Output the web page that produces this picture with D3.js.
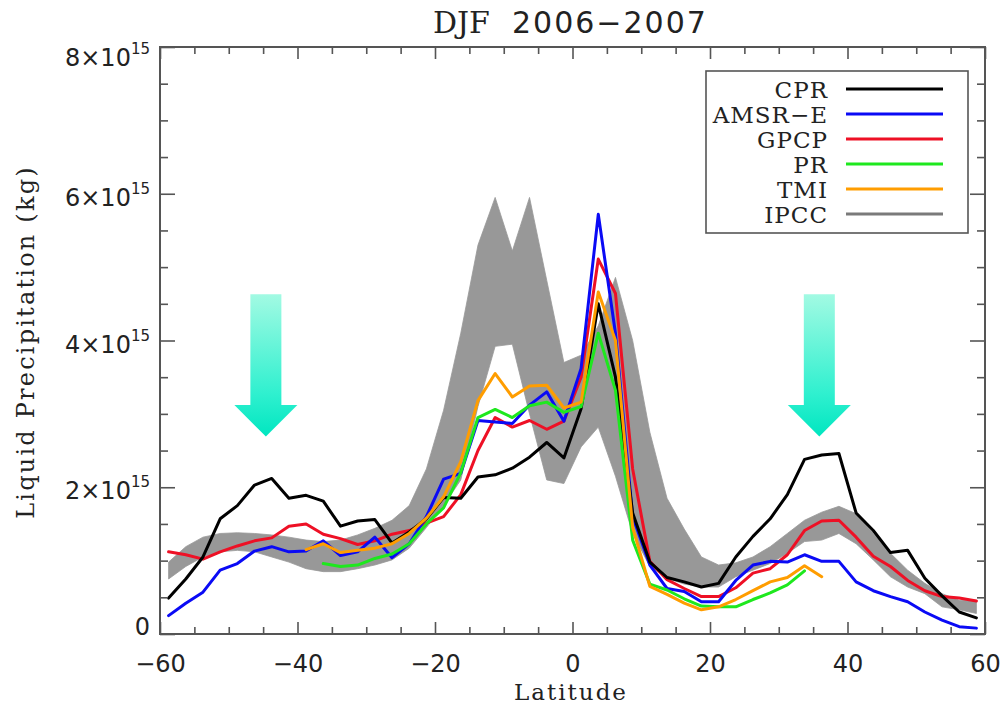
<!DOCTYPE html>
<html><head><meta charset="utf-8">
<script src="https://cdn.jsdelivr.net/npm/d3@7"></script>
<style>body{margin:0;background:#fff;overflow:hidden} svg{display:block}</style>
</head><body><svg id="c" width="1001" height="704"></svg>
<script>
// ---------------- data (units of 1e15 kg) ----------------
const latitudes = [-58.75,-56.25,-53.75,-51.25,-48.75,-46.25,-43.75,-41.25,-38.75,-36.25,-33.75,-31.25,
  -28.75,-26.25,-23.75,-21.25,-18.75,-16.25,-13.75,-11.25,-8.75,-6.25,-3.75,-1.25,
  1.25,3.75,6.25,8.75,11.25,13.75,16.25,18.75,21.25,23.75,26.25,28.75,
  31.25,33.75,36.25,38.75,41.25,43.75,46.25,48.75,51.25,53.75,56.25,58.75];
const cpr = [0.49,0.75,1.05,1.57,1.75,2.03,2.12,1.85,1.89,1.81,1.47,1.54,
  1.56,1.24,1.39,1.57,1.86,1.85,2.14,2.17,2.26,2.41,2.61,2.40,
  3.07,4.50,3.50,1.65,0.98,0.77,0.71,0.64,0.69,1.05,1.33,1.57,
  1.90,2.38,2.44,2.46,1.65,1.41,1.11,1.14,0.76,0.52,0.30,0.22];
const amsre = [0.25,0.42,0.57,0.87,0.96,1.13,1.19,1.12,1.13,1.27,1.07,1.12,
  1.32,1.04,1.23,1.60,2.11,2.19,2.91,2.89,2.87,3.12,3.30,2.90,
  3.62,5.72,4.10,1.60,0.94,0.62,0.58,0.44,0.44,0.73,0.94,0.99,
  0.98,1.08,0.99,0.99,0.71,0.59,0.51,0.44,0.30,0.19,0.10,0.08];
const gpcp = [1.12,1.08,1.02,1.12,1.20,1.27,1.31,1.47,1.50,1.36,1.30,1.22,
  1.27,1.36,1.41,1.51,1.60,1.90,2.50,2.95,2.82,2.91,2.79,2.90,
  3.50,5.11,4.64,2.25,0.99,0.74,0.62,0.51,0.51,0.63,0.83,0.89,
  1.08,1.41,1.54,1.55,1.32,1.06,0.92,0.73,0.59,0.51,0.49,0.45];
const pr = [null,null,null,null,null,null,null,null,null,0.96,0.92,0.94,
  1.03,1.09,1.23,1.50,1.72,2.20,2.95,3.06,2.95,3.11,3.16,3.02,
  3.10,4.10,3.32,1.28,0.68,0.60,0.48,0.38,0.37,0.37,0.47,0.56,
  0.67,0.86,null,null,null,null,null,null,null,null,null,null];
const tmi = [null,null,null,null,null,null,null,null,1.15,1.23,1.11,1.14,
  1.17,1.23,1.37,1.58,1.87,2.35,3.18,3.55,3.23,3.38,3.39,3.08,
  3.16,4.66,4.00,1.45,0.65,0.54,0.42,0.33,0.37,0.47,0.59,0.71,
  0.77,0.93,0.78,null,null,null,null,null,null,null,null,null];
const ipccHigh = [0.98,1.19,1.32,1.37,1.38,1.37,1.35,1.32,1.28,1.26,1.28,1.35,
  1.44,1.55,1.75,2.25,3.05,4.10,5.30,5.95,5.22,5.95,4.82,3.70,
  3.80,4.20,4.86,4.00,2.75,1.85,1.43,1.05,0.94,0.97,1.05,1.19,
  1.37,1.55,1.66,1.74,1.64,1.37,1.10,0.87,0.69,0.55,0.46,0.46];
const ipccLow = [0.75,0.92,1.05,1.12,1.14,1.12,1.05,0.98,0.89,0.85,0.85,0.89,
  0.94,1.01,1.17,1.45,1.75,2.10,3.10,3.92,3.95,3.00,2.10,2.05,
  2.55,2.82,2.15,1.37,0.92,0.76,0.68,0.64,0.64,0.78,0.87,0.96,
  1.10,1.26,1.28,1.37,1.23,1.01,0.78,0.64,0.55,0.37,0.33,0.28];

const seriesNames = ["CPR","AMSR\u2212E","GPCP","PR","TMI","IPCC"];
const xMajorTicks = [-60,-40,-20,0,20,40,60];
const xMinorTicks = [-55,-50,-45,-35,-30,-25,-15,-10,-5,5,10,15,25,30,35,45,50,55];
const yMajorTicks = [0,2,4,6,8];
const yMinorTicks = [0.5,1,1.5,2.5,3,3.5,4.5,5,5.5,6.5,7,7.5];
const yTickLabels = ["0","2\u00d710","4\u00d710","6\u00d710","8\u00d710"];
const yTickExponent = ["","15","15","15","15"];
const arrowLats = [-44.6, 35.9];
const arrowTop = 4.63, arrowHeadTop = 3.12, arrowTip = 2.69;
const titleA = "DJF", titleB = "2006\u22122007";
const xLabel = "Latitude", yLabel = "Liquid Precipitation (kg)";

// ---------------- drawing ----------------
const colors = {"CPR":"#000000","AMSR\u2212E":"#0a0af5","GPCP":"#ee1025","PR":"#1ee81e","TMI":"#ff9d00","IPCC":"#7a7a7a"};
const svg = d3.select("#c");
const x = d3.scaleLinear().domain([-60,60]).range([160,985]);
const y = d3.scaleLinear().domain([0,8]).range([634,47]);
const serif = "'DejaVu Serif', serif", sans = "'DejaVu Sans', sans-serif";
const textCol = "#222";

// gradient for arrows
const defs = svg.append("defs");
const grad = defs.append("linearGradient").attr("id","ag").attr("x1",0).attr("y1",0).attr("x2",0).attr("y2",1);
grad.append("stop").attr("offset","0%").attr("stop-color","#a2fae3");
grad.append("stop").attr("offset","70%").attr("stop-color","#2ff0cf");
grad.append("stop").attr("offset","100%").attr("stop-color","#00e6c0");

// IPCC band
const bandData = latitudes.map((lat,i)=>({lat, lo:ipccLow[i], hi:ipccHigh[i]}));
svg.append("path").datum(bandData)
  .attr("d", d3.area().x(d=>x(d.lat)).y0(d=>y(d.lo)).y1(d=>y(d.hi)))
  .attr("fill","#989898").attr("stroke","#989898").attr("stroke-width",0.8);

// lines
const line = d3.line().defined(d=>d.v!=null).x(d=>x(d.lat)).y(d=>y(d.v));
const drawOrder = [["GPCP",gpcp],["AMSR\u2212E",amsre],["CPR",cpr],["PR",pr],["TMI",tmi]];
drawOrder.forEach(([name,vals])=>{
  svg.append("path").datum(latitudes.map((lat,i)=>({lat,v:vals[i]})))
    .attr("d",line).attr("fill","none").attr("stroke",colors[name])
    .attr("stroke-width",3).attr("stroke-linejoin","round").attr("stroke-linecap","round");
});

// arrows
arrowLats.forEach(lat=>{
  const cx = x(lat), t = y(arrowTop), h = y(arrowHeadTop), tip = y(arrowTip);
  const sw = 15.5, hw = 31.5;
  svg.append("path")
    .attr("d", `M${cx-sw},${t}L${cx+sw},${t}L${cx+sw},${h}L${cx+hw},${h}L${cx},${tip}L${cx-hw},${h}L${cx-sw},${h}Z`)
    .attr("fill","url(#ag)");
});

// axes
const tickStyle = g => { g.select(".domain").remove(); g.selectAll("line").attr("stroke","#555").attr("stroke-width",1.6); };
svg.append("g").attr("transform","translate(0,634)")
  .call(d3.axisBottom(x).tickValues(xMajorTicks).tickSizeInner(-12).tickSizeOuter(0).tickPadding(21).tickFormat(d=>d<0?"\u2212"+Math.abs(d):String(d)))
  .call(tickStyle)
  .call(g=>g.selectAll("text").attr("font-family",sans).attr("font-size",24).attr("fill",textCol));
svg.append("g").attr("transform","translate(0,634)")
  .call(d3.axisBottom(x).tickValues(xMinorTicks).tickSizeInner(-7).tickSizeOuter(0).tickFormat(""))
  .call(tickStyle);
svg.append("g").attr("transform","translate(0,47)")
  .call(d3.axisTop(x).tickValues(xMajorTicks).tickSizeInner(-12).tickSizeOuter(0).tickFormat(""))
  .call(tickStyle);
svg.append("g").attr("transform","translate(0,47)")
  .call(d3.axisTop(x).tickValues(xMinorTicks).tickSizeInner(-7).tickSizeOuter(0).tickFormat(""))
  .call(tickStyle);
svg.append("g").attr("transform","translate(160,0)")
  .call(d3.axisLeft(y).tickValues(yMajorTicks).tickSizeInner(-15).tickSizeOuter(0).tickFormat(""))
  .call(tickStyle);
svg.append("g").attr("transform","translate(160,0)")
  .call(d3.axisLeft(y).tickValues(yMinorTicks).tickSizeInner(-8).tickSizeOuter(0).tickFormat(""))
  .call(tickStyle);
svg.append("g").attr("transform","translate(985,0)")
  .call(d3.axisRight(y).tickValues(yMajorTicks).tickSizeInner(-15).tickSizeOuter(0).tickFormat(""))
  .call(tickStyle);
svg.append("g").attr("transform","translate(985,0)")
  .call(d3.axisRight(y).tickValues(yMinorTicks).tickSizeInner(-8).tickSizeOuter(0).tickFormat(""))
  .call(tickStyle);

// frame
svg.append("rect").attr("x",x(-60)).attr("y",y(8)).attr("width",x(60)-x(-60)).attr("height",y(0)-y(8))
  .attr("fill","none").attr("stroke","#555").attr("stroke-width",2);

// y tick labels
yMajorTicks.forEach((v,i)=>{
  const shift = v===8 ? 19 : (v===0 ? 1 : 12);
  const t = svg.append("text").attr("x",150).attr("y",y(v)+shift).attr("text-anchor","end")
    .attr("font-family",sans).attr("font-size",24).attr("fill",textCol);
  t.append("tspan").text(yTickLabels[i]);
  if (yTickExponent[i]) t.append("tspan").attr("font-size",15).attr("dy",-12).text(yTickExponent[i]);
});

// title
const title = svg.append("text").attr("x",433).attr("y",33).attr("fill",textCol).attr("font-size",30);
title.append("tspan").attr("font-family",serif).text(titleA);
title.append("tspan").attr("x",512).attr("font-family",sans).attr("letter-spacing",2).text(titleB);

// axis titles
svg.append("text").attr("transform","translate(34,342) rotate(-90)").attr("text-anchor","middle")
  .attr("font-family",serif).attr("font-size",24).attr("letter-spacing",2.2).attr("fill",textCol).text(yLabel);
svg.append("text").attr("x",571).attr("y",700).attr("text-anchor","middle")
  .attr("font-family",serif).attr("font-size",23).attr("letter-spacing",2).attr("fill",textCol).text(xLabel);

// legend
const lg = svg.append("g");
lg.append("rect").attr("x",706).attr("y",71).attr("width",262).attr("height",162)
  .attr("fill","#fff").attr("stroke","#555").attr("stroke-width",1.6);
seriesNames.forEach((name,i)=>{
  const cy = 89 + i*25;
  lg.append("text").attr("x",828).attr("y",cy+8.5).attr("text-anchor","end")
    .attr("font-family",serif).attr("font-size",23).attr("letter-spacing",1).attr("fill",textCol).text(name);
  lg.append("line").attr("x1",846).attr("x2",943).attr("y1",cy).attr("y2",cy)
    .attr("stroke",colors[name]).attr("stroke-width",3);
});
</script></body></html>
